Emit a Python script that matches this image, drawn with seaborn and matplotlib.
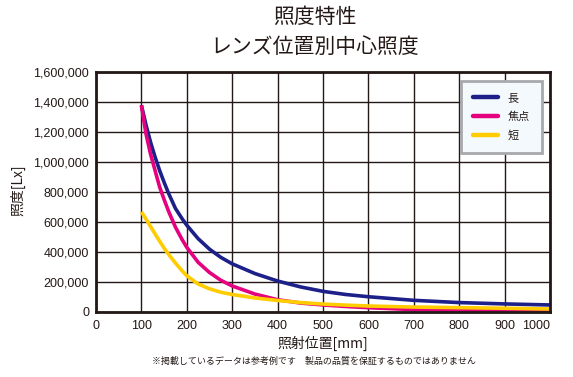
import numpy as np
import pandas as pd
import seaborn as sns
import matplotlib.pyplot as plt
from matplotlib.ticker import FuncFormatter

# ---- data ----
position_mm = [100, 110, 120, 130, 140, 150, 160, 175, 190, 200, 225, 250, 275, 300,
               350, 400, 450, 500, 550, 600, 700, 800, 900, 1000]
long_lx = [1380000, 1250000, 1135000, 1035000, 945000, 865000, 790000, 690000, 620000, 578000,
           488000, 418000, 363000, 320000, 255000, 205000, 166000, 136000, 115000, 100000,
           76000, 61000, 52000, 45000]
focus_lx = [1380000, 1190000, 1055000, 945000, 835000, 750000, 670000, 565000, 480000, 430000,
            330000, 262000, 210000, 172000, 118000, 80000, 58000, 45000, 35000, 27000,
            14000, 9000, 6000, 5000]
short_lx = [667000, 620000, 570000, 520000, 472000, 425000, 383000, 325000, 272000, 240000,
            185000, 153000, 130000, 115000, 92000, 75000, 61000, 51000, 44000, 38000,
            31000, 27000, 23000, 18000]
series_names = ['長', '焦点', '短']
series_colors = ['#1d2088', '#e4007f', '#ffcc00']
x_ticks = list(range(0, 1001, 100))
y_ticks = list(range(0, 1600001, 200000))

title_lines = ['照度特性', 'レンズ位置別中心照度']
x_label = '照射位置[mm]'
y_label = '照度[Lx]'
note = '※掲載しているデータは参考例です　製品の品質を保証するものではありません'

df = pd.concat([
    pd.DataFrame({'位置': position_mm, '照度': vals, '系列': name})
    for name, vals in zip(series_names, [long_lx, focus_lx, short_lx])
], ignore_index=True)

sns.set_style('white')
plt.rcParams['font.family'] = ['Noto Sans CJK JP', 'DejaVu Sans']
ink = '#231815'

fig = plt.figure(figsize=(5.73, 3.77), dpi=100)
ax = fig.add_axes([96 / 573, 1 - 311.7 / 377, 454 / 573, 239.4 / 377])

sns.lineplot(data=df, x='位置', y='照度', hue='系列', hue_order=series_names,
             palette=series_colors, linewidth=2.6, ax=ax, sort=False)
for ln in ax.lines:
    ln.set_solid_capstyle('butt')
    ln.set_solid_joinstyle('round')

ax.set_xlim(0, 1000)
ax.set_ylim(0, 1600000)
ax.set_xticks(x_ticks)
ax.set_yticks(y_ticks)
ax.yaxis.set_major_formatter(FuncFormatter(lambda v, p: f'{int(v):,}'))
ax.grid(True, color=ink, linewidth=1.0)
ax.set_axisbelow(True)
for s in ax.spines.values():
    s.set_color(ink)
    s.set_linewidth(2.0)
    s.set_visible(True)
ax.tick_params(length=0, labelsize=9, colors=ink)
ax.tick_params(axis='y', pad=5)
ax.tick_params(axis='x', pad=6)
for lab in ax.get_xticklabels() + ax.get_yticklabels():
    lab.set_family(['Liberation Sans', 'DejaVu Sans'])
xl = ax.get_xticklabels()
xl[-1].set_horizontalalignment('right')
ax.set_xlabel('')
ax.set_ylabel('')

handles, labels = ax.get_legend_handles_labels()
leg = ax.legend(handles, labels, loc='upper right',
                bbox_to_anchor=(541.7 / 573, 1 - 81 / 377), bbox_transform=fig.transFigure,
                fontsize=8, frameon=True, fancybox=False, framealpha=1,
                facecolor='#f4f9fe', edgecolor='#a7a9ac', handlelength=2.3,
                handletextpad=0.8, labelspacing=0.75, borderpad=1.1, borderaxespad=0)
leg.get_frame().set_linewidth(2.0)
for h in leg.get_lines():
    h.set_linewidth(3.2)
    h.set_solid_capstyle('round')
for t in leg.get_texts():
    t.set_color(ink)

fig.text(315 / 573, 1 - 17 / 377, title_lines[0], ha='center', va='center', fontsize=15, color=ink)
fig.text(315 / 573, 1 - 47 / 377, title_lines[1], ha='center', va='center', fontsize=15, color=ink)
fig.text(323 / 573, 1 - 343 / 377, x_label, ha='center', va='center', fontsize=10, color=ink)
fig.text(18 / 573, 1 - 190 / 377, y_label, ha='center', va='center', fontsize=10,
         rotation=90, color=ink)
fig.text(314 / 573, 1 - 361 / 377, note, ha='center', va='center', fontsize=6.5, color=ink)

fig.savefig('out.png', dpi=100)
